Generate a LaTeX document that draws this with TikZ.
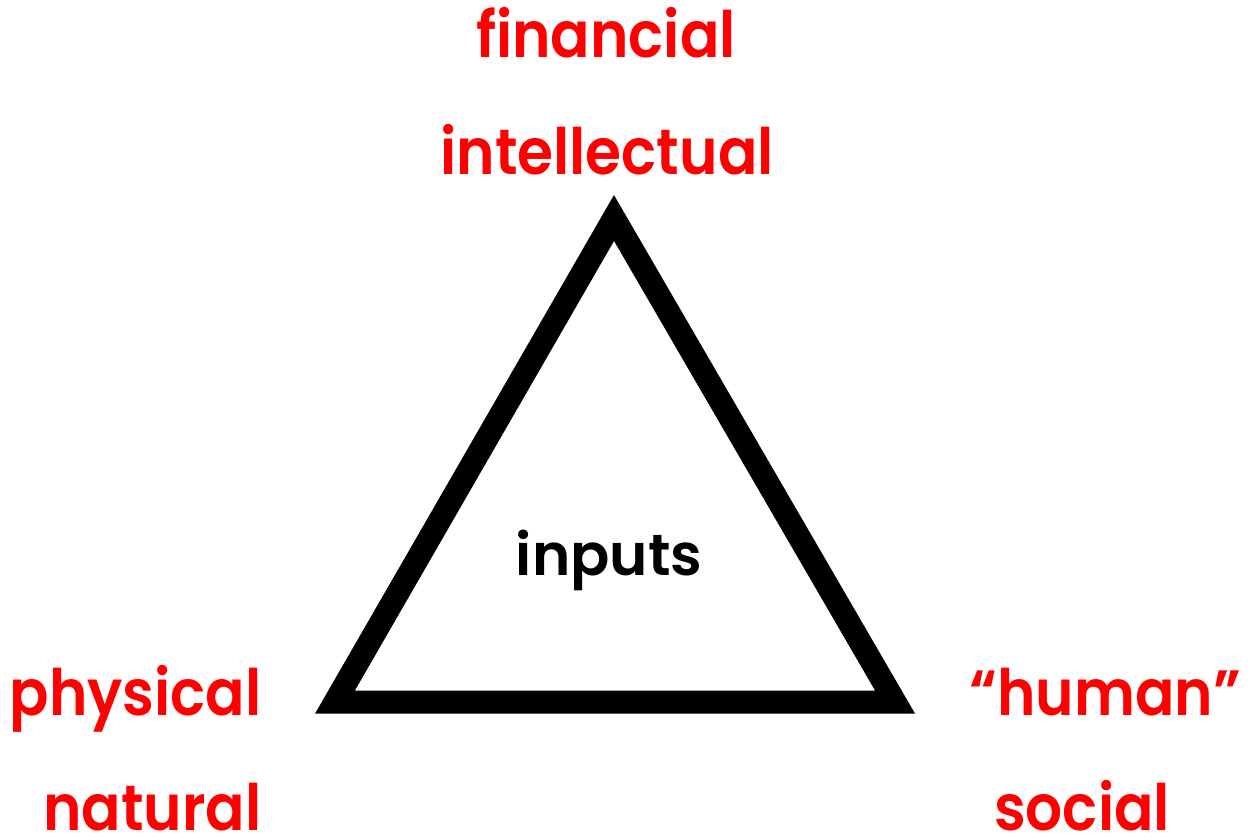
\documentclass[tikz,border=0pt]{standalone}
\usepackage{fontspec}
\setmainfont{Poppins}[BoldFont={* SemiBold}]
\newfontfamily\capfont{Poppins}[FakeStretch=0.91, BoldFont={* SemiBold}, Ligatures=TeX]
\definecolor{capred}{RGB}{255,0,0}
\begin{document}
\begin{tikzpicture}[x=0.5pt, y=-0.5pt,
    capital/.style={text=capred, font=\capfont\fontsize{32}{38}\selectfont\bfseries, anchor=base},
    every node/.style={inner sep=0pt}]
  \useasboundingbox (0,0) rectangle (1252,839);
  \draw[line width=11.5pt, line join=miter] (614,218) -- (335,702) -- (895,702) -- cycle;

  \node[font=\fontsize{29}{34}\selectfont\bfseries, anchor=base] (inputs) at (609,575) {inputs};

  \node[capital] (financial) at (606,58) {financial};
  \node[capital] (intellectual) at (607,175) {intellectual};
  \node[capital, anchor=base east] (physical) at (262,715) {physical};
  \node[capital, anchor=base east] (natural) at (262,830) {natural};
  \node[capital] (human) at (1105,715) {“human”};
  \node[capital] (social) at (1082,830) {social};
\end{tikzpicture}
\end{document}
